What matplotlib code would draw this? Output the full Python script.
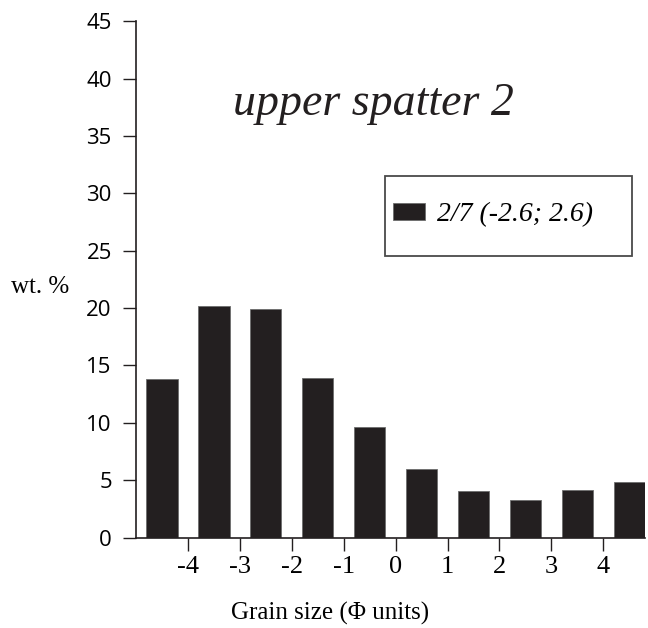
import numpy as np
import matplotlib.pyplot as plt
from matplotlib.patches import Rectangle

# bar centres (phi classes) and weight percentages
phi_classes = [-4.5, -3.5, -2.5, -1.5, -0.5, 0.5, 1.5, 2.5, 3.5, 4.5]
wt_percent = [13.8, 20.2, 19.95, 13.95, 9.6, 6.0, 4.1, 3.3, 4.15, 4.85]
x_ticks = [-4, -3, -2, -1, 0, 1, 2, 3, 4]
y_ticks = [0, 5, 10, 15, 20, 25, 30, 35, 40, 45]
sample_label = "2/7 (-2.6; 2.6)"

ink = '#231f20'

fig = plt.figure(figsize=(6.48, 6.28), dpi=100)
ax = fig.add_axes([0.21, 0.144, 0.785, 0.822])

bars = ax.bar(phi_classes, wt_percent, width=0.6, color=ink,
              edgecolor='#6d6d6d', linewidth=0.6, label=sample_label)

ax.set_xlim(-5, 4.8)
ax.set_ylim(0, 45)
ax.set_xticks(x_ticks)
ax.set_xticklabels([str(t) for t in x_ticks], family='Liberation Serif', fontsize=19)
ax.set_yticks(y_ticks)
ax.set_yticklabels([str(t) for t in y_ticks], family='Open Sans', fontsize=16)
ax.tick_params(axis='both', direction='out', length=9.5, width=1, color=ink)
ax.tick_params(axis='x', pad=4)
ax.tick_params(axis='y', pad=8)

for side in ['top', 'right']:
    ax.spines[side].set_visible(False)
for side in ['left', 'bottom']:
    ax.spines[side].set_color(ink)
    ax.spines[side].set_linewidth(1.2)

ax.set_xlabel("Grain size (Φ units)", family='Liberation Serif', fontsize=18)
ax.xaxis.set_label_coords(0.381, -0.125)
ax.set_ylabel("wt. %", family='Liberation Serif', fontsize=18, rotation=0,
              va='center', ha='center')
ax.yaxis.set_label_coords(-0.189, 0.485)

ax.text(0.467, 0.84, "upper spatter 2", transform=ax.transAxes,
        family='Liberation Serif', style='italic', fontsize=33,
        ha='center', va='center', color=ink)

# legend box drawn as a plain rectangle, legend itself without frame
fig.patches.append(Rectangle((385 / 648, 1 - 256 / 628), 247 / 648, 80 / 628,
                             transform=fig.transFigure, facecolor='none',
                             edgecolor='#4a4a4a', linewidth=1.3))
leg = ax.legend(loc='center left', bbox_to_anchor=(374 / 648, 1 - 215 / 628),
                bbox_transform=fig.transFigure, frameon=False,
                prop={'family': 'Liberation Serif', 'style': 'italic', 'size': 20},
                handlelength=1.12, handleheight=0.58, handletextpad=0.45, borderpad=0.2)

fig.savefig('out.png', dpi=100)
